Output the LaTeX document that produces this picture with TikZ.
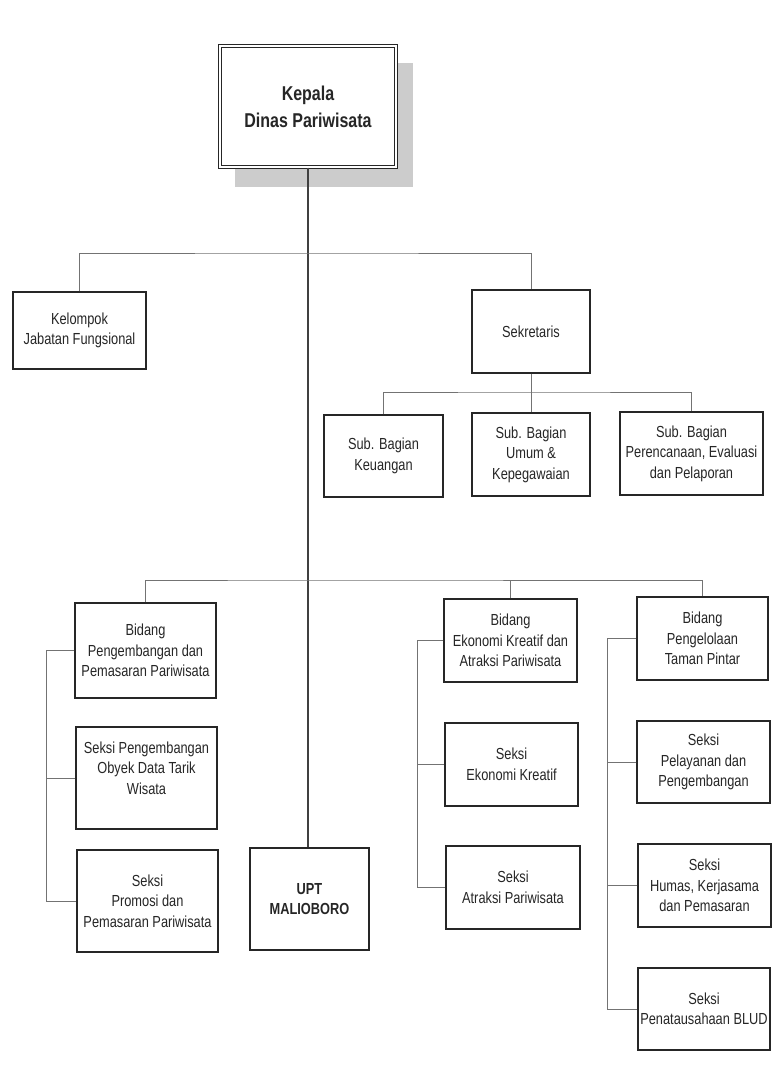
\documentclass[tikz,border=0pt]{standalone}
\usepackage{fontspec}
\setmainfont{Liberation Sans}[FakeStretch=0.8]
\begin{document}
\begin{tikzpicture}[x=1pt,y=-1pt,
 box/.style={draw=black!85, line width=1.1pt, fill=white, inner sep=0pt, align=center, text=black!85, font=\fontsize{16}{20.5}\selectfont},
 txt/.style={inner sep=0pt, align=center, text=black!85, font=\fontsize{16}{20.5}\selectfont},
 conn/.style={draw=black!55, line width=0.9pt},
 mainln/.style={draw=black!75, line width=1.3pt}]
\useasboundingbox[fill=white] (0,0) rectangle (774,1068);
% shadow of head box
\fill[black!20] (235,63) rectangle (413,187);
% head
\node[box, draw=black!85, line width=1.2pt, double=white, double distance=2.2pt, minimum width=176, minimum height=121, font=\fontsize{20}{27}\selectfont\bfseries] (kepala) at (308,106.5) {Kepala\\Dinas Pariwisata};
% staff
\node[box, minimum width=133, minimum height=77] (kel) at (79.5,330.5) {Kelompok\\Jabatan Fungsional};
\node[box, minimum width=118, minimum height=83] (sek) at (531,331.5) {Sekretaris};
\node[box, minimum width=119, minimum height=82] (sub1) at (383.5,456) {Sub. Bagian\\Keuangan};
\node[box, minimum width=118, minimum height=83] (sub2) at (531,454.5) {Sub. Bagian\\Umum \&\\Kepegawaian};
\node[box, minimum width=143, minimum height=83] (sub3) at (691.5,453.5) {Sub. Bagian\\Perencanaan, Evaluasi\\dan Pelaporan};
% bidang 1
\node[box, minimum width=141, minimum height=95] (bid1) at (145.5,650.5) {Bidang\\Pengembangan dan\\Pemasaran Pariwisata};
\node[box, minimum width=141, minimum height=102] (s11) at (146.5,778) {};
\node[txt] (s11t) at (146.5,768) {Seksi Pengembangan\\Obyek Data Tarik\\Wisata};
\node[box, minimum width=141, minimum height=102] (s12) at (147.5,901) {Seksi\\Promosi dan\\Pemasaran Pariwisata};
% UPT
\node[box, minimum width=119, minimum height=102, font=\fontsize{16}{20.5}\selectfont\bfseries] (upt) at (309.5,899) {UPT\\MALIOBORO};
% bidang 2
\node[box, minimum width=133, minimum height=83] (bid2) at (510.5,640.5) {Bidang\\Ekonomi Kreatif dan\\Atraksi Pariwisata};
\node[box, minimum width=133, minimum height=83] (s21) at (511.5,764.5) {Seksi\\Ekonomi Kreatif};
\node[box, minimum width=134, minimum height=83] (s22) at (513,887.5) {Seksi\\Atraksi Pariwisata};
% bidang 3
\node[box, minimum width=131, minimum height=83] (bid3) at (702.5,638.5) {Bidang\\Pengelolaan\\Taman Pintar};
\node[box, minimum width=133, minimum height=82] (s31) at (703.5,762) {Seksi\\Pelayanan dan\\Pengembangan};
\node[box, minimum width=133, minimum height=83] (s32) at (704.5,885.5) {Seksi\\Humas, Kerjasama\\dan Pemasaran};
\node[box, minimum width=132, minimum height=82] (s33) at (704,1009) {Seksi\\Penatausahaan BLUD};
% junctions
\coordinate (j1) at (308,253);
\coordinate (j2) at (531,392);
\coordinate (j3) at (308,580);
\coordinate (r1) at (46,650);
\coordinate (r2) at (417,640);
\coordinate (r3) at (607,638);
% main line
\draw[mainln] (kepala.south) -- (kepala.south |- upt.north);
% connectors
\draw[conn] (kel.north) |- (j1) -| (sek.north);
\draw[conn] (sek.south) -- (sub2.north);
\draw[conn] (sub1.north) |- (j2) -| (sub3.north);
\draw[conn] (bid1.north) |- (j3) -| (bid3.north);
\draw[conn] (bid2.north) -- (bid2.north |- j3);
\draw[conn] (bid1.west) -- (bid1.west -| r1) |- (s12.west);
\draw[conn] (s11.west) -- (s11.west -| r1);
\draw[conn] (bid2.west) -- (bid2.west -| r2) |- (s22.west);
\draw[conn] (s21.west) -- (s21.west -| r2);
\draw[conn] (bid3.west) -- (bid3.west -| r3) |- (s33.west);
\draw[conn] (s31.west) -- (s31.west -| r3);
\draw[conn] (s32.west) -- (s32.west -| r3);
\end{tikzpicture}
\end{document}
